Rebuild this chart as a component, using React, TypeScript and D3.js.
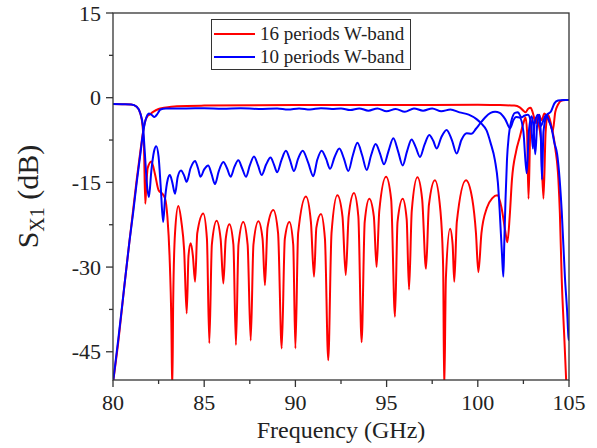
import React from "react";
import * as d3 from "d3";

const xTicks = [80, 85, 90, 95, 100, 105];
const xMinor = [82.5, 87.5, 92.5, 97.5, 102.5];
const yTicks = [-45, -30, -15, 0, 15];
const yMinor = [-37.5, -22.5, -7.5, 7.5];

const legendLabels = ["16 periods W-band", "10 periods W-band"];
const seriesColors = ["#ff0000", "#0000ff"];

// 16 periods, reflection
const red16S11: [number, number][] = [
  [80.0, -1.1], [80.5, -1.15], [81.0, -1.2], [81.3, -1.6], [81.5, -2.8], [81.62, -5], [81.7, -9],
  [81.77, -18.8], [81.82, -16], [81.9, -12.5], [82.1, -11.3], [82.3, -13.5], [82.5, -16.4],
  [82.7, -17.0], [82.85, -17.8], [82.98, -21], [83.1, -28], [83.2, -40], [83.25, -52], [83.3, -36],
  [83.4, -24], [83.58, -19.2], [83.75, -22], [83.9, -27], [84.04, -38.2], [84.14, -28], [84.26, -25.8],
  [84.38, -28], [84.5, -32.6], [84.62, -24], [84.95, -20.5], [85.15, -25], [85.28, -43.5], [85.42, -26],
  [85.68, -21.8], [85.9, -25], [86.05, -32.9], [86.18, -25], [86.38, -22.4], [86.6, -26], [86.74, -43.8],
  [86.88, -26], [87.14, -22], [87.38, -26], [87.55, -43], [87.7, -26], [87.97, -21.9], [88.2, -25],
  [88.33, -33.2], [88.47, -23], [88.79, -19.9], [89.05, -24], [89.25, -44.4], [89.42, -25], [89.67, -22],
  [89.88, -26], [90.0, -44.4], [90.15, -24], [90.58, -17.5], [90.85, -22], [91.02, -31.7], [91.15, -23],
  [91.4, -20.6], [91.62, -25], [91.8, -46.5], [91.98, -24], [92.3, -17.3], [92.58, -21], [92.76, -31.4],
  [92.92, -21], [93.21, -16.9], [93.45, -21], [93.63, -43.3], [93.8, -22], [94.05, -17.9], [94.3, -21],
  [94.45, -30], [94.6, -20], [94.97, -14], [95.25, -18], [95.46, -38.8], [95.6, -22], [95.88, -17.9],
  [96.1, -21.5], [96.23, -34], [96.38, -20], [96.69, -14.1], [96.95, -18], [97.16, -30.3], [97.32, -19],
  [97.65, -14.6], [97.95, -20], [98.1, -30], [98.16, -52], [98.25, -32], [98.48, -23.2], [98.62, -26],
  [98.71, -32.6], [98.85, -22], [99.35, -14.6], [99.7, -18], [99.9, -24], [100.03, -30.9], [100.2, -24],
  [100.5, -19.5], [100.8, -17.8], [101.07, -17.3], [101.3, -19.5], [101.5, -23.5], [101.62, -25.6],
  [101.75, -21], [101.87, -14.6], [102.1, -9.5], [102.3, -7.0], [102.5, -4.5], [102.62, -3.5],
  [102.7, -6], [102.78, -17.9], [102.88, -6], [103.05, -3.5], [103.25, -4], [103.45, -7], [103.6, -17.9],
  [103.72, -6], [103.85, -3], [104.0, -4.5], [104.1, -6], [104.25, -2.5], [104.4, -1.2], [104.6, -0.5],
  [104.8, -0.4], [105.0, -0.4],
];

// 16 periods, transmission
const red16S21: [number, number][] = [
  [80.0, -50.5], [80.3, -43], [80.6, -34], [80.9, -25.5], [81.1, -20], [81.3, -14.5], [81.5, -9.5],
  [81.65, -6], [81.78, -4], [81.9, -3.2], [82.0, -3.0], [82.2, -2.5], [82.5, -2.0], [82.8, -1.8],
  [83.5, -1.5], [85, -1.4], [90, -1.3], [95, -1.3], [100, -1.25], [101, -1.3], [102, -1.4],
  [102.3, -1.7], [102.5, -2.3], [102.62, -2.6], [102.75, -2.0], [102.9, -1.8], [103.0, -2.5],
  [103.2, -4.5], [103.35, -3.0], [103.5, -4.0], [103.65, -2.8], [103.8, -3.5], [103.95, -4.5],
  [104.1, -6], [104.25, -9], [104.42, -14.6], [104.5, -20.5], [104.6, -32], [104.75, -43], [104.87, -52],
];

// 10 periods, reflection
const blue10S11: [number, number][] = [
  [80.0, -1.1], [80.5, -1.15], [81.0, -1.2], [81.3, -1.6], [81.5, -2.8], [81.64, -5], [81.75, -10],
  [81.85, -15], [81.97, -17.6], [82.1, -13], [82.25, -9.5], [82.37, -8.6], [82.5, -10.5], [82.62, -16],
  [82.75, -22], [82.85, -18], [83.0, -14.5], [83.12, -13.7], [83.25, -15], [83.4, -17], [83.55, -14],
  [83.73, -12.9], [83.9, -13.8], [84.04, -14.9], [84.25, -12.5], [84.5, -11.2], [84.66, -12.5],
  [84.8, -14], [85.0, -12.7], [85.22, -12], [85.4, -13.5], [85.59, -15.3], [85.8, -13], [86.05, -11.4],
  [86.25, -12.5], [86.45, -14], [86.65, -12.3], [86.87, -11.1], [87.08, -12.5], [87.29, -14],
  [87.5, -12], [87.73, -10.4], [87.95, -12], [88.15, -13.7], [88.4, -11.8], [88.64, -10.6],
  [88.82, -11.8], [89.0, -13.2], [89.24, -11], [89.48, -9.4], [89.7, -11], [89.92, -13], [90.15, -10.8],
  [90.4, -9.4], [90.7, -11.5], [90.98, -13.9], [91.2, -11], [91.44, -9.4], [91.68, -10.8], [91.9, -12.6],
  [92.15, -10.5], [92.41, -9.0], [92.66, -10.8], [92.9, -13], [93.15, -10.2], [93.4, -8.0],
  [93.66, -10.2], [93.91, -12.8], [94.15, -10.2], [94.4, -8.2], [94.63, -9.8], [94.86, -11.8],
  [95.1, -9.5], [95.37, -7.2], [95.63, -9.5], [95.88, -12], [96.12, -9.5], [96.37, -7.4], [96.6, -8.8],
  [96.83, -10.5], [97.08, -8.3], [97.34, -6.6], [97.55, -7.6], [97.75, -9], [98.0, -7], [98.29, -5.7],
  [98.58, -7.5], [98.84, -9.9], [99.1, -7.5], [99.39, -6.3], [99.65, -6.4], [99.9, -5.5], [100.12, -4.6],
  [100.4, -3.5], [100.7, -2.7], [100.95, -2.5], [101.2, -2.7], [101.5, -3.8], [101.77, -5.4],
  [101.95, -4], [102.1, -3.4], [102.3, -3.5], [102.5, -6], [102.68, -13.4], [102.8, -6], [102.95, -3.3],
  [103.05, -5], [103.15, -10], [103.25, -5], [103.38, -3.0], [103.45, -6], [103.52, -14.5], [103.6, -6],
  [103.8, -3.0], [104.0, -2.5], [104.2, -1.0], [104.4, -0.5], [104.7, -0.4], [105.0, -0.4],
];

// 10 periods, transmission
const blue10S21: [number, number][] = [
  [80.0, -50.5], [80.3, -42.5], [80.6, -34], [80.9, -25.5], [81.1, -20.5], [81.3, -15], [81.5, -10],
  [81.64, -6.4], [81.78, -4], [81.9, -3.0], [81.97, -2.8], [82.1, -3.0], [82.28, -3.4], [82.45, -2.8],
  [82.6, -2.1], [82.9, -1.9], [84.0, -1.9], [85.0, -1.85], [86.0, -1.95], [87.0, -1.85], [88.0, -2.0],
  [89.0, -1.9], [89.6, -2.1], [90.2, -1.9], [90.8, -2.1], [91.4, -1.85], [92.0, -2.0], [92.5, -1.9],
  [93.0, -2.2], [93.5, -1.9], [94.0, -2.3], [94.5, -1.9], [95.0, -2.4], [95.5, -2.0], [96.0, -2.5],
  [96.5, -1.9], [97.0, -2.3], [97.5, -1.9], [98.0, -2.4], [98.5, -2.1], [99.0, -2.6], [99.5, -3.0],
  [99.93, -3.8], [100.2, -4.6], [100.48, -5.8], [100.7, -8], [100.94, -11.1], [101.1, -15],
  [101.2, -20], [101.33, -28], [101.4, -31.7], [101.45, -26], [101.52, -18], [101.6, -11], [101.7, -6.7],
  [101.85, -4.0], [102.04, -2.7], [102.2, -2.6], [102.4, -3.5], [102.55, -3.2], [102.75, -3.0],
  [102.92, -4.5], [103.02, -9], [103.12, -4.5], [103.3, -3.0], [103.45, -5], [103.6, -4], [103.75, -3],
  [103.9, -4], [104.05, -5.5], [104.2, -8], [104.35, -10], [104.45, -13], [104.6, -20], [104.78, -32],
  [104.9, -38], [104.97, -42.4], [105.0, -43],
];

const W = 597;
const H = 448;
const left = 113, right = 569, top = 13, bottom = 380;

export default function App() {
  const x = d3.scaleLinear().domain([80, 105]).range([left, right]);
  const y = d3.scaleLinear().domain([-50, 15]).range([bottom, top]);
  const line = d3
    .line<[number, number]>()
    .x((d) => x(d[0]))
    .y((d) => y(d[1]))
    .curve(d3.curveMonotoneX);

  const axisColor = "#333";
  const textColor = "#222";
  const font = "'Liberation Serif', 'Times New Roman', serif";

  const series = [
    { data: red16S11, color: seriesColors[0] },
    { data: red16S21, color: seriesColors[0] },
    { data: blue10S11, color: seriesColors[1] },
    { data: blue10S21, color: seriesColors[1] },
  ];

  return (
    <svg
      width={W}
      height={H}
      style={{ position: "absolute", left: 0, top: 0, background: "#fff" }}
      fontFamily={font}
    >
      <defs>
        <clipPath id="plotClip">
          <rect x={left} y={top} width={right - left} height={bottom - top} />
        </clipPath>
      </defs>
      <rect x={0} y={0} width={W} height={H} fill="#fff" />
      <g clipPath="url(#plotClip)">
        {series.map((s, i) => (
          <path key={i} d={line(s.data) || ""} fill="none" stroke={s.color} strokeWidth={2} strokeLinejoin="round" />
        ))}
      </g>
      {/* frame */}
      <rect x={left} y={top} width={right - left} height={bottom - top} fill="none" stroke={axisColor} strokeWidth={1.3} />
      {/* x ticks */}
      {xTicks.map((t) => (
        <g key={"xt" + t}>
          <line x1={x(t)} x2={x(t)} y1={bottom} y2={bottom + 7} stroke={axisColor} strokeWidth={1.3} />
          <text x={x(t)} y={410} textAnchor="middle" fontSize={22} fill={textColor}>
            {t}
          </text>
        </g>
      ))}
      {xMinor.map((t) => (
        <line key={"xm" + t} x1={x(t)} x2={x(t)} y1={bottom} y2={bottom + 4} stroke={axisColor} strokeWidth={1.3} />
      ))}
      {/* y ticks */}
      {yTicks.map((t) => (
        <g key={"yt" + t}>
          <line x1={left - 7} x2={left} y1={y(t)} y2={y(t)} stroke={axisColor} strokeWidth={1.3} />
          <text x={101} y={y(t) + 7.5} textAnchor="end" fontSize={22} fill={textColor}>
            {t}
          </text>
        </g>
      ))}
      {yMinor.map((t) => (
        <line key={"ym" + t} x1={left - 4} x2={left} y1={y(t)} y2={y(t)} stroke={axisColor} strokeWidth={1.3} />
      ))}
      {/* axis titles */}
      <text x={(left + right) / 2} y={438} textAnchor="middle" fontSize={24} fill={textColor}>
        Frequency (GHz)
      </text>
      <text
        transform={`translate(38, ${(top + bottom) / 2}) rotate(-90)`}
        textAnchor="middle"
        fontSize={30}
        fill={textColor}
      >
        S<tspan fontSize={20} dy={6}>X1</tspan>
        <tspan dy={-6}> (dB)</tspan>
      </text>
      {/* legend */}
      <rect x={211.5} y={19.5} width={199} height={50} fill="#fff" stroke={axisColor} strokeWidth={1} />
      {legendLabels.map((lab, i) => (
        <g key={lab}>
          <line x1={214} x2={255} y1={34 + i * 23} y2={34 + i * 23} stroke={seriesColors[i]} strokeWidth={2} />
          <text x={260} y={40 + i * 23} fontSize={19} fill={textColor}>
            {lab}
          </text>
        </g>
      ))}
    </svg>
  );
}
